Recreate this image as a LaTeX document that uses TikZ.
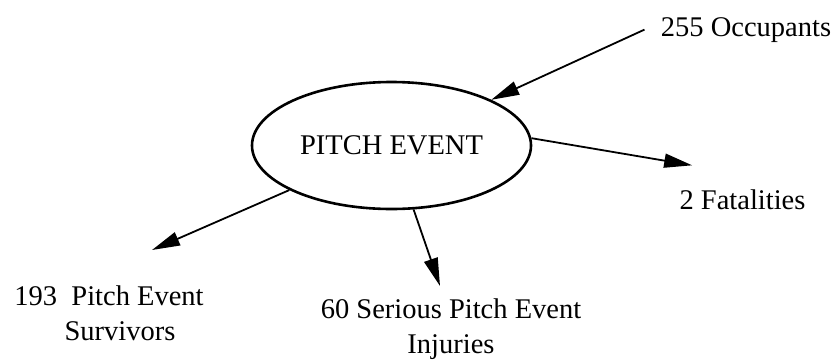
\documentclass[tikz,border=0pt]{standalone}
\usepackage{fontspec}
\setmainfont{Liberation Serif}
\usetikzlibrary{shapes.geometric, arrows.meta}
\tikzset{
  eventnode/.style={
    ellipse,
    minimum width=139.5pt, minimum height=63.5pt,
    inner sep=0pt,
    draw=black, line width=1.3pt,
    font=\fontsize{14.25}{17.5}\selectfont
  },
  outcomenode/.style={
    inner sep=0pt, align=center,
    font=\fontsize{14.25}{17.5}\selectfont
  },
  arrow/.style={-{Triangle[length=14pt, width=7pt]}, line width=0.9pt, black}
}

\begin{document}
\begin{tikzpicture}[x=0.5pt, y=-0.5pt]
  \useasboundingbox (0,0) rectangle (836,360);

  % Central event
  \node[eventnode] (ev) at (391.5,145.5) {PITCH EVENT};

  % Outcome labels
  \node[outcomenode, anchor=base] (occ) at (746,36) {255 Occupants};
  \node[outcomenode, anchor=base] (fat) at (742.5,209) {2 Fatalities};
  \node[outcomenode, anchor=north] (surv) at (109,285.5) {193~~Pitch Event\\\hspace*{11pt}Survivors};
  \node[outcomenode, anchor=north] (inj) at (451,298.5) {60 Serious Pitch Event\\Injuries};

  % Free arrow ends
  \coordinate (occend) at ([xshift=-8pt]occ.west);
  \coordinate (fattip) at ([xshift=6.5pt, yshift=11.75pt]fat.north west);
  \coordinate (survtip) at ([xshift=21.5pt, yshift=17.75pt]surv.north);
  \coordinate (injtip) at ([xshift=-5.5pt, yshift=6.25pt]inj.north);

  % Arrows
  \draw[arrow] (occend) -- (ev);
  \draw[arrow] (ev.3) -- (fattip);
  \draw[arrow] (ev) -- (survtip);
  \draw[arrow] (ev) -- (injtip);

\end{tikzpicture}
\end{document}
